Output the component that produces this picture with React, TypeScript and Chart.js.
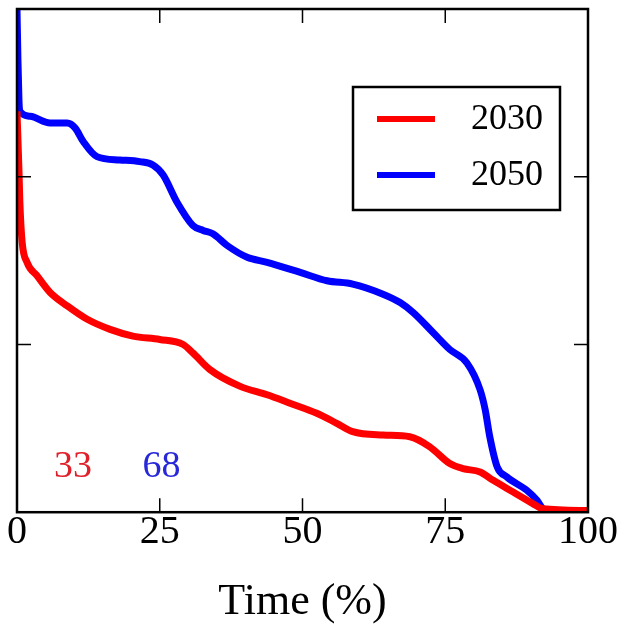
import React, { useEffect, useRef } from "react";
import { Chart, registerables } from "chart.js";

Chart.register(...registerables);

const seriesLabels = ["2030", "2050"];
const seriesColors = ["#ff0000", "#0000ff"];

const time2030 = [0, 0.35, 0.5, 0.9, 1.75, 3.5, 5.8, 8.8, 12.3, 16.3, 20.3, 25.0, 29.1, 30.8, 33.8, 39.1, 43.8, 47.8, 52.5, 56.0, 58.8, 64.1, 68.8, 72.3, 75.8, 78.1, 81.1, 83.4, 86.9, 90.4, 92.1, 100];
const value2030 = [2.39, 2.03, 1.85, 1.61, 1.49, 1.41, 1.31, 1.23, 1.15, 1.09, 1.05, 1.03, 1.0, 0.95, 0.85, 0.75, 0.7, 0.65, 0.59, 0.53, 0.48, 0.46, 0.45, 0.39, 0.29, 0.26, 0.24, 0.19, 0.12, 0.05, 0.02, 0.01];

const time2050 = [0, 0.17, 0.35, 0.5, 2.3, 5.8, 8.8, 10.2, 11.6, 14.0, 18.0, 21.5, 23.8, 25.6, 28.0, 30.8, 32.6, 34.3, 36.8, 40.3, 43.8, 49.6, 54.3, 58.8, 64.1, 67.1, 69.4, 72.9, 75.8, 78.8, 81.1, 82.0, 82.8, 84.1, 85.8, 89.3, 91.1, 92.1, 93.0, 100];
const value2050 = [3.0, 2.69, 2.45, 2.39, 2.36, 2.32, 2.32, 2.29, 2.21, 2.12, 2.1, 2.09, 2.07, 2.01, 1.85, 1.71, 1.68, 1.66, 1.59, 1.52, 1.49, 1.43, 1.38, 1.36, 1.3, 1.25, 1.19, 1.07, 0.97, 0.89, 0.73, 0.61, 0.45, 0.27, 0.21, 0.13, 0.07, 0.02, 0.01, 0.01];

const xTicks = [0, 25, 50, 75, 100];
const yTicks = [0, 1, 2, 3];
const xTitle = "Time (%)";

const annotationTexts = ["33", "68"];
const annotationColors = ["#e0202a", "#2828d8"];
const annotationX = [9.8, 25.3];
const annotationY = [0.27, 0.27];

const SERIF = "'Liberation Serif', 'DejaVu Serif', serif";

const framePlugin = {
  id: "framePlugin",
  afterDatasetsDraw(chart: any) {
    const { ctx, chartArea } = chart;
    const { left, right, top, bottom } = chartArea;
    const xs = chart.scales.x;
    const ys = chart.scales.y;
    ctx.save();
    ctx.strokeStyle = "#000";
    ctx.lineWidth = 2.5;
    ctx.strokeRect(left, top, right - left, bottom - top);
    const tl = 14;
    ctx.lineWidth = 1.5;
    ctx.beginPath();
    xTicks.forEach((v) => {
      const px = xs.getPixelForValue(v);
      ctx.moveTo(px, bottom);
      ctx.lineTo(px, bottom - tl);
      ctx.moveTo(px, top);
      ctx.lineTo(px, top + tl);
    });
    yTicks.forEach((v) => {
      const py = ys.getPixelForValue(v);
      ctx.moveTo(left, py);
      ctx.lineTo(left + tl, py);
      ctx.moveTo(right, py);
      ctx.lineTo(right - tl, py);
    });
    ctx.stroke();

    ctx.font = `38px ${SERIF}`;
    ctx.textAlign = "center";
    ctx.textBaseline = "middle";
    annotationTexts.forEach((t, i) => {
      ctx.fillStyle = annotationColors[i];
      ctx.fillText(t, xs.getPixelForValue(annotationX[i]), ys.getPixelForValue(annotationY[i]));
    });

    const bw = 207;
    const bh = 123;
    const bx = right - 28 - bw;
    const by = top + 78;
    ctx.fillStyle = "#fff";
    ctx.fillRect(bx, by, bw, bh);
    ctx.lineWidth = 2.5;
    ctx.strokeStyle = "#000";
    ctx.strokeRect(bx, by, bw, bh);
    chart.data.datasets.forEach((ds: any, i: number) => {
      const ry = by + 32 + i * 56;
      ctx.strokeStyle = ds.borderColor;
      ctx.lineWidth = 6;
      ctx.beginPath();
      ctx.moveTo(bx + 24, ry);
      ctx.lineTo(bx + 82, ry);
      ctx.stroke();
      ctx.fillStyle = "#000";
      ctx.font = `36px ${SERIF}`;
      ctx.textAlign = "left";
      ctx.textBaseline = "middle";
      ctx.fillText(ds.label, bx + 118, ry + 1);
    });
    ctx.restore();
  },
};

export default function App() {
  const ref = useRef<HTMLCanvasElement | null>(null);
  useEffect(() => {
    if (!ref.current) return;
    const makeData = (xs: number[], ys: number[]) => xs.map((x, i) => ({ x, y: ys[i] }));
    const chart = new Chart(ref.current, {
      type: "scatter",
      data: {
        datasets: [
          {
            label: seriesLabels[0],
            data: makeData(time2030, value2030),
            borderColor: seriesColors[0],
            backgroundColor: seriesColors[0],
            showLine: true,
            borderWidth: 7,
            pointRadius: 0,
            cubicInterpolationMode: "monotone",
          },
          {
            label: seriesLabels[1],
            data: makeData(time2050, value2050),
            borderColor: seriesColors[1],
            backgroundColor: seriesColors[1],
            showLine: true,
            borderWidth: 7,
            pointRadius: 0,
            cubicInterpolationMode: "monotone",
          },
        ],
      },
      options: {
        animation: false,
        responsive: false,
        maintainAspectRatio: false,
        layout: { padding: { left: 17, right: 33, top: 9, bottom: 0 } },
        plugins: { legend: { display: false }, tooltip: { enabled: false } },
        scales: {
          x: {
            type: "linear",
            min: 0,
            max: 100,
            afterBuildTicks: (axis: any) => {
              axis.ticks = xTicks.map((v) => ({ value: v }));
            },
            grid: { display: false, drawTicks: false },
            border: { display: false },
            ticks: {
              color: "#000",
              padding: -4,
              maxRotation: 0,
              autoSkip: false,
              font: { family: SERIF, size: 40 },
            },
            title: {
              display: true,
              text: xTitle,
              color: "#000",
              padding: { top: 24, bottom: 3 },
              font: { family: SERIF, size: 44 },
            },
          },
          y: {
            type: "linear",
            display: false,
            min: 0,
            max: 3,
          },
        },
      },
      plugins: [framePlugin],
    });
    return () => chart.destroy();
  }, []);
  return (
    <div style={{ position: "fixed", left: 0, top: 0, width: 621, height: 632, background: "#fff" }}>
      <canvas ref={ref} width={621} height={632} style={{ display: "block" }} />
    </div>
  );
}
